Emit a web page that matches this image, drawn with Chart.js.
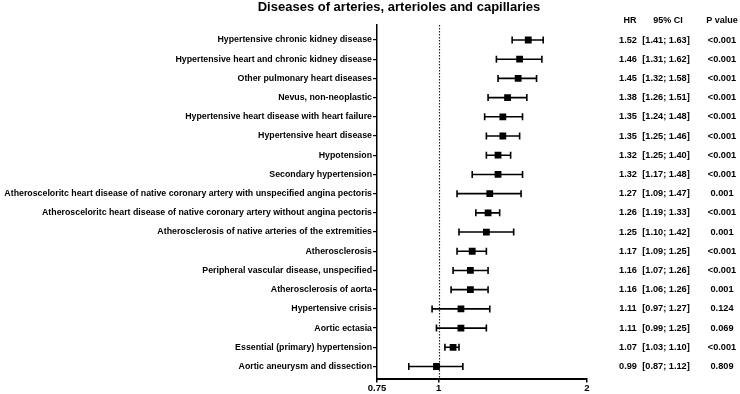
<!DOCTYPE html>
<html lang="en">
<head>
    <meta charset="UTF-8">
    <title>Diseases of arteries, arterioles and capillaries</title>
    <script src="https://cdn.jsdelivr.net/npm/chart.js"></script>
    <style>
        html, body { margin: 0; padding: 0; background: #fff; }
        #wrap { width: 740px; height: 394px; }
    </style>
</head>
<body>
    <div id="wrap"><canvas id="forest" width="740" height="394"></canvas></div>

    <script>
        // Data
        const diseases = [
            'Hypertensive chronic kidney disease',
            'Hypertensive heart and chronic kidney disease',
            'Other pulmonary heart diseases',
            'Nevus, non-neoplastic',
            'Hypertensive heart disease with heart failure',
            'Hypertensive heart disease',
            'Hypotension',
            'Secondary hypertension',
            'Atherosceloritc heart disease of native coronary artery with unspecified angina pectoris',
            'Atherosceloritc heart disease of native coronary artery without angina pectoris',
            'Atherosclerosis of native arteries of the extremities',
            'Atherosclerosis',
            'Peripheral vascular disease, unspecified',
            'Atherosclerosis of aorta',
            'Hypertensive crisis',
            'Aortic ectasia',
            'Essential (primary) hypertension',
            'Aortic aneurysm and dissection'
        ];
        const hr      = [1.52, 1.46, 1.45, 1.38, 1.35, 1.35, 1.32, 1.32, 1.27, 1.26, 1.25, 1.17, 1.16, 1.16, 1.11, 1.11, 1.07, 0.99];
        const ciLow   = [1.41, 1.31, 1.32, 1.26, 1.24, 1.25, 1.25, 1.17, 1.09, 1.19, 1.10, 1.09, 1.07, 1.06, 0.97, 0.99, 1.03, 0.87];
        const ciHigh  = [1.63, 1.62, 1.58, 1.51, 1.48, 1.46, 1.40, 1.48, 1.47, 1.33, 1.42, 1.25, 1.26, 1.26, 1.27, 1.25, 1.10, 1.12];
        const pValues = ['<0.001', '<0.001', '<0.001', '<0.001', '<0.001', '<0.001', '<0.001', '<0.001', '0.001',
                         '<0.001', '0.001', '<0.001', '<0.001', '0.001', '0.124', '0.069', '<0.001', '0.809'];
        const xTicks  = [0.75, 1, 2];

        const FONT = '"Liberation Sans", Arial, Helvetica, sans-serif';

        // whiskers + dotted reference line, drawn under the squares
        const forestPlugin = {
            id: 'forest',
            beforeDatasetsDraw(chart) {
                const ctx = chart.ctx;
                const xs = chart.scales.x, ys = chart.scales.y;
                const area = chart.chartArea;

                // reference line at HR = 1
                const x1 = Math.round(xs.getPixelForValue(1)) + 0.5;
                ctx.save();
                ctx.strokeStyle = '#222';
                ctx.lineWidth = 1.2;
                ctx.setLineDash([1.5, 1.5]);
                ctx.beginPath();
                ctx.moveTo(x1, area.top);
                ctx.lineTo(x1, area.bottom);
                ctx.stroke();
                ctx.restore();

                ctx.save();
                ctx.strokeStyle = '#000';
                ctx.lineWidth = 1.6;
                diseases.forEach((_, i) => {
                    const y = ys.getPixelForValue(i);
                    const xa = xs.getPixelForValue(ciLow[i]);
                    const xb = xs.getPixelForValue(ciHigh[i]);
                    ctx.beginPath();
                    ctx.moveTo(xa, y); ctx.lineTo(xb, y);
                    ctx.moveTo(xa, y - 3.5); ctx.lineTo(xa, y + 3.5);
                    ctx.moveTo(xb, y - 3.5); ctx.lineTo(xb, y + 3.5);
                    ctx.stroke();
                });
                ctx.restore();
            },
            afterDraw(chart) {
                const ctx = chart.ctx;
                const ys = chart.scales.y;
                ctx.save();
                ctx.fillStyle = '#000';
                ctx.textBaseline = 'middle';

                // title
                ctx.font = 'bold 13px ' + FONT;
                ctx.textAlign = 'center';
                ctx.fillText('Diseases of arteries, arterioles and capillaries', 399, 7);

                // table headers
                ctx.font = 'bold 9px ' + FONT;
                ctx.fillText('HR', 630, 21);
                ctx.fillText('95% CI', 668, 21);
                ctx.fillText('P value', 722, 21);

                // table rows
                ctx.font = 'bold 9.2px ' + FONT;
                diseases.forEach((_, i) => {
                    const y = ys.getPixelForValue(i);
                    ctx.fillText(hr[i].toFixed(2), 628, y);
                    ctx.fillText('[' + ciLow[i].toFixed(2) + '; ' + ciHigh[i].toFixed(2) + ']', 666, y);
                    ctx.fillText(pValues[i], 722, y);
                });
                ctx.restore();
            }
        };

        new Chart(document.getElementById('forest'), {
            type: 'scatter',
            data: {
                datasets: [{
                    data: hr.map((v, i) => ({ x: v, y: i })),
                    pointStyle: 'rect',
                    pointRadius: 4.8,
                    backgroundColor: '#000',
                    borderColor: '#000',
                    borderWidth: 0
                }]
            },
            options: {
                responsive: false,
                animation: false,
                layout: { padding: { top: 25, right: 153, bottom: 0, left: 0 } },
                plugins: {
                    legend: { display: false },
                    tooltip: { enabled: false }
                },
                scales: {
                    x: {
                        type: 'logarithmic',
                        min: 0.75,
                        max: 2,
                        afterBuildTicks: s => { s.ticks = xTicks.map(v => ({ value: v })); },
                        ticks: {
                            color: '#000',
                            font: { family: FONT, size: 9.5, weight: 'bold' },
                            padding: 0,
                            maxRotation: 0,
                            callback: v => String(v)
                        },
                        grid: { drawOnChartArea: false, drawTicks: true, tickLength: 4, color: '#000', lineWidth: 1.5 },
                        border: { display: true, color: '#000', width: 2 }
                    },
                    y: {
                        type: 'linear',
                        reverse: true,
                        min: -0.78,
                        max: 17.63,
                        afterBuildTicks: s => { s.ticks = diseases.map((_, i) => ({ value: i })); },
                        afterFit: s => { s.width = 377; },
                        ticks: {
                            autoSkip: false,
                            color: '#000',
                            font: { family: FONT, size: 8.8, weight: 'bold' },
                            padding: 1,
                            callback: v => diseases[v]
                        },
                        grid: { drawOnChartArea: false, drawTicks: true, tickLength: 4, color: '#000', lineWidth: 1.2 },
                        border: { display: true, color: '#000', width: 1.5 }
                    }
                }
            },
            plugins: [forestPlugin]
        });
    </script>
</body>
</html>
